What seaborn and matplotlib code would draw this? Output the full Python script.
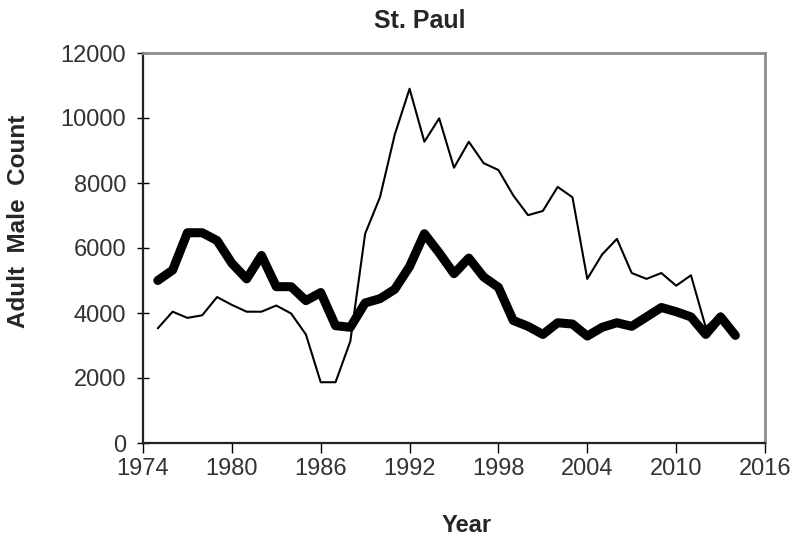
import pandas as pd
import matplotlib
matplotlib.use("Agg")
import matplotlib.pyplot as plt
import seaborn as sns

# -------------------------------
# Data
# -------------------------------
years = list(range(1975, 2015))

thin_counts = [3530, 4040, 3850, 3930, 4490, 4250, 4040, 4040, 4230, 3985,
               3340, 1870, 1870, 3130, 6440, 7560, 9490, 10900, 9270, 9990,
               8470, 9270, 8610, 8400, 7620, 7010, 7140, 7880, 7560, 5050,
               5800, 6280, 5230, 5050, 5230, 4840, 5160, 3560, 3985, 3340]

thick_counts = [5000, 5320, 6470, 6470, 6230, 5530, 5050, 5770, 4810, 4810,
                4380, 4630, 3610, 3560, 4310, 4440, 4730, 5430, 6440, 5850,
                5210, 5690, 5110, 4790, 3770, 3590, 3340, 3700, 3660, 3290,
                3560, 3700, 3590, 3880, 4170, 4040, 3880, 3340, 3880, 3310]

xticks = [1974, 1980, 1986, 1992, 1998, 2004, 2010, 2016]
yticks = [0, 2000, 4000, 6000, 8000, 10000, 12000]

df = pd.DataFrame({"Year": years, "thin": thin_counts, "thick": thick_counts})

# -------------------------------
# Plot
# -------------------------------
sns.set_style("white")
plt.rcParams["font.family"] = ["Liberation Sans", "DejaVu Sans"]

fig = plt.figure(figsize=(7.99, 5.44), dpi=100)
ax = fig.add_axes([143 / 799, 1 - 443 / 544, 622 / 799, 390 / 544])

sns.lineplot(data=df, x="Year", y="thin", ax=ax, color="black", linewidth=1.5)
sns.lineplot(data=df, x="Year", y="thick", ax=ax, color="black", linewidth=6.5,
             solid_joinstyle="round", solid_capstyle="round")

ax.set_xlim(1974, 2016)
ax.set_ylim(0, 12000)
ax.set_xticks(xticks)
ax.set_yticks(yticks)
ax.tick_params(axis="both", labelsize=17, width=1, color="black",
               labelcolor="#333333", bottom=True, left=True)
ax.tick_params(axis="x", direction="out", length=7, pad=4)
ax.tick_params(axis="y", direction="inout", length=8, pad=8)

for side in ["left", "bottom"]:
    ax.spines[side].set_color("#222222")
    ax.spines[side].set_linewidth(1.6)
for side in ["top", "right"]:
    ax.spines[side].set_color("#8c8c8c")
    ax.spines[side].set_linewidth(2)

ax.set_xlabel("")
ax.set_ylabel("")
fig.text(467 / 799, 1 - 525 / 544, "Year", ha="center", va="center",
         fontsize=17, fontweight="bold")
fig.text(19 / 799, 1 - 221 / 544, "Adult  Male  Count", ha="center", va="center",
         rotation=90, fontsize=17.5, fontweight="bold")
fig.text(420 / 799, 1 - 21 / 544, "St. Paul", ha="center", va="center",
         fontsize=18, fontweight="bold")

plt.savefig("out.png", dpi=100)
